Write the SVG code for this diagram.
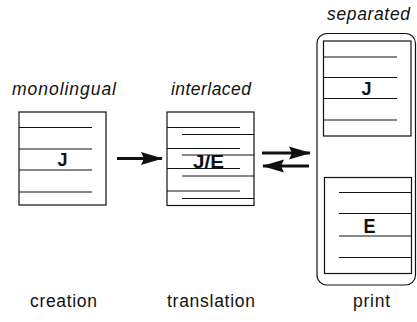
<svg xmlns="http://www.w3.org/2000/svg" width="417" height="322" viewBox="0 0 417 322">
<style>
.box{fill:#fff;stroke:#111;stroke-width:1.2}
.ln{stroke:#111;stroke-width:1.2}
.lbl{font-family:"Liberation Sans",Arial,sans-serif;font-size:17.5px;fill:#111}
.it{font-style:italic}
.big{font-family:"Liberation Sans",Arial,sans-serif;font-weight:bold;fill:#111;text-anchor:middle}
.arr{stroke:#111;stroke-width:2.8;fill:none}
</style>
<defs>
<marker id="ah" markerWidth="24" markerHeight="14" refX="21" refY="7" orient="auto" markerUnits="userSpaceOnUse">
<path d="M0,0.5 L22,7 L0,13.5 L3,7 Z" fill="#111"/>
</marker>
</defs>
<rect width="417" height="322" fill="#fff"/>

<g id="monolingual">
<text class="lbl it" x="12" y="95" textLength="104" lengthAdjust="spacing">monolingual</text>
<rect class="box" x="19" y="112" width="87" height="93"/>
<line class="ln" x1="19" y1="127.5" x2="92" y2="127.5"/>
<line class="ln" x1="19" y1="149" x2="92" y2="149"/>
<line class="ln" x1="19" y1="170" x2="92" y2="170"/>
<line class="ln" x1="19" y1="192" x2="92" y2="192"/>
<text class="big" x="62.5" y="166" font-size="18">J</text>
<text class="lbl" x="30" y="307" textLength="67" lengthAdjust="spacing">creation</text>
</g>

<g id="interlaced">
<text class="lbl it" x="171" y="95" textLength="80" lengthAdjust="spacing">interlaced</text>
<rect class="box" x="167" y="112" width="87" height="93.5"/>
<line class="ln" x1="167" y1="127.5" x2="240" y2="127.5"/>
<line class="ln" x1="182" y1="134.5" x2="254" y2="134.5"/>
<line class="ln" x1="167" y1="148.5" x2="240" y2="148.5"/>
<line class="ln" x1="182" y1="155" x2="254" y2="155"/>
<line class="ln" x1="167" y1="168.5" x2="240" y2="168.5"/>
<line class="ln" x1="182" y1="176" x2="254" y2="176"/>
<line class="ln" x1="167" y1="191" x2="240" y2="191"/>
<line class="ln" x1="182" y1="198.5" x2="254" y2="198.5"/>
<text class="big" x="208.5" y="168" font-size="18" textLength="31" lengthAdjust="spacingAndGlyphs">J/E</text>
<text class="lbl" x="167" y="307" textLength="88" lengthAdjust="spacing">translation</text>
</g>

<g id="separated">
<text class="lbl it" x="327" y="20" textLength="83" lengthAdjust="spacing">separated</text>
<rect class="box" x="317" y="33.5" width="98.5" height="251.5" rx="10" ry="10"/>
<rect class="box" x="323.5" y="41" width="87.5" height="95"/>
<line class="ln" x1="323.5" y1="57" x2="397" y2="57"/>
<line class="ln" x1="323.5" y1="77.5" x2="397" y2="77.5"/>
<line class="ln" x1="323.5" y1="98.5" x2="397" y2="98.5"/>
<line class="ln" x1="323.5" y1="120" x2="397" y2="120"/>
<text class="big" x="366.5" y="95" font-size="18">J</text>
<rect class="box" x="324.5" y="177.5" width="87" height="96"/>
<line class="ln" x1="339" y1="192.5" x2="411.5" y2="192.5"/>
<line class="ln" x1="339" y1="213.5" x2="411.5" y2="213.5"/>
<line class="ln" x1="339" y1="236" x2="411.5" y2="236"/>
<line class="ln" x1="339" y1="257.5" x2="411.5" y2="257.5"/>
<text class="big" x="369.5" y="233" font-size="20" textLength="12" lengthAdjust="spacingAndGlyphs">E</text>
<text class="lbl" x="353" y="307" textLength="37" lengthAdjust="spacing">print</text>
</g>

<g id="connectors">
<line class="arr" x1="117" y1="158.5" x2="162" y2="158.5" marker-end="url(#ah)"/>
<line class="arr" x1="262" y1="153" x2="310" y2="153" marker-end="url(#ah)"/>
<line class="arr" x1="309" y1="166" x2="263" y2="166" marker-end="url(#ah)"/>
</g>
</svg>
